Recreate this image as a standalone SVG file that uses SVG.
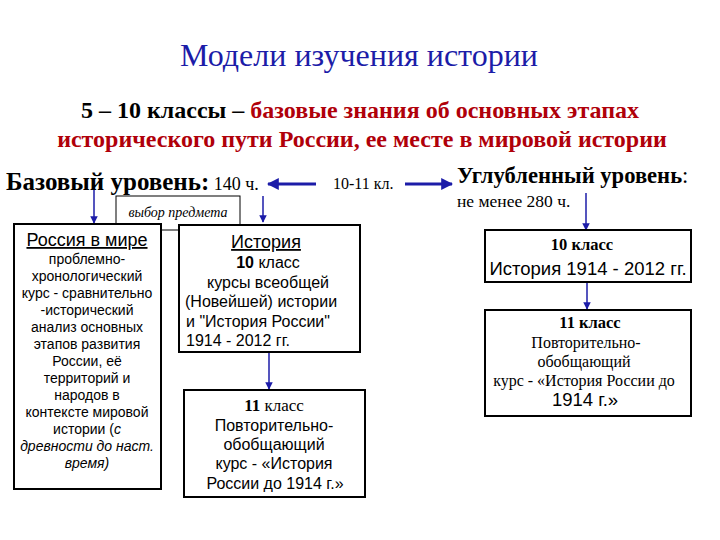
<svg xmlns="http://www.w3.org/2000/svg" width="720" height="540" viewBox="0 0 720 540">
<defs>
<marker id="ah" viewBox="0 0 10 10" refX="9" refY="5" markerWidth="4" markerHeight="4" orient="auto" markerUnits="strokeWidth"><path d="M0,0 L10,5 L0,10 z" fill="#1c1ca8"/></marker>
<marker id="ahs" viewBox="0 0 10 10" refX="9" refY="5" markerWidth="5" markerHeight="5" orient="auto" markerUnits="strokeWidth"><path d="M0,0 L10,5 L0,10 z" fill="#1c1ca8"/></marker>
</defs>
<style>
.serif{font-family:"Liberation Serif","Times New Roman",serif}
.sans{font-family:"Liberation Sans",Arial,sans-serif}
.box{fill:#fff;stroke:#000;stroke-width:2}
.big{stroke:#1c1ca8;stroke-width:3;fill:none}
.thin{stroke:#1c1ca8;stroke-width:1.5;fill:none}
.red{fill:#b0000a}
</style>
<rect width="720" height="540" fill="#fff"/>
<g id="title">
<text class="serif" x="359" y="66" font-size="32" fill="#1c1ca8" text-anchor="middle">Модели изучения истории</text>
</g>
<g id="subtitle" class="serif" font-weight="bold" font-size="24" text-anchor="middle">
<text x="360" y="118"><tspan fill="#000">5 – 10 классы – </tspan><tspan class="red">базовые знания об основных этапах</tspan></text>
<text x="362" y="147" class="red">исторического пути России, ее месте в мировой истории</text>
</g>
<g id="base-level">
<text class="serif" x="6" y="190" font-size="25"><tspan font-weight="bold">Базовый уровень:</tspan><tspan font-size="18"> 140 ч.</tspan></text>
</g>
<g id="grades">
<text class="serif" x="333" y="189" font-size="16">10-11 кл.</text>
</g>
<g id="deep-level">
<text class="serif" x="457" y="183" font-size="22.6"><tspan font-weight="bold">Углубленный уровень</tspan>:</text>
<text class="serif" x="457" y="207" font-size="17.5">не менее 280 ч.</text>
</g>
<g id="connectors">
<line class="big" x1="316" y1="184" x2="268" y2="184" marker-end="url(#ah)"/>
<line class="big" x1="405" y1="184" x2="452" y2="184" marker-end="url(#ah)"/>
<line class="thin" x1="94" y1="190" x2="94" y2="223" marker-end="url(#ahs)"/>
<line class="thin" x1="263" y1="196" x2="263" y2="222" marker-end="url(#ahs)"/>
<line class="thin" x1="586" y1="193" x2="586" y2="230" marker-end="url(#ahs)"/>
<line class="thin" x1="269" y1="353" x2="269" y2="389" marker-end="url(#ahs)"/>
<line class="thin" x1="587" y1="283" x2="587" y2="309" marker-end="url(#ahs)"/>
</g>
<g id="choice">
<rect x="116" y="196" width="124" height="34" fill="#fff" stroke="#000" stroke-width="1"/>
<text class="serif" x="178" y="217" font-size="14" font-style="italic" text-anchor="middle">выбор предмета</text>
</g>
<g id="russia-world" class="sans" text-anchor="middle">
<rect class="box" x="14" y="224" width="147" height="265"/>
<text x="87" y="246" font-size="18" text-decoration="underline">Россия в мире</text>
<g font-size="14">
<text x="87" y="264">проблемно-</text>
<text x="87" y="281">хронологический</text>
<text x="87" y="298">курс - сравнительно</text>
<text x="87" y="315">-исторический</text>
<text x="87" y="332">анализ основных</text>
<text x="87" y="349">этапов развития</text>
<text x="87" y="366">России, её</text>
<text x="87" y="383">территорий и</text>
<text x="87" y="400">народов в</text>
<text x="87" y="417">контексте мировой</text>
<text x="87" y="434">истории (<tspan font-style="italic">с</tspan></text>
<text x="87" y="451" font-style="italic">древности до наст.</text>
<text x="87" y="468" font-style="italic">время)</text>
</g>
</g>
<g id="history-10" class="sans" text-anchor="middle">
<rect class="box" x="179" y="225" width="181" height="127"/>
<text x="266" y="248" font-size="18" text-decoration="underline">История</text>
<g font-size="16">
<text x="268" y="268"><tspan font-weight="bold">10</tspan> класс</text>
<text x="268" y="288">курсы всеобщей</text>
<text x="185" y="307" text-anchor="start">(Новейшей) истории</text>
<text x="186" y="327" text-anchor="start">и "История России"</text>
<text x="186" y="346" text-anchor="start">1914 - 2012 гг.</text>
</g>
</g>
<g id="history-11" text-anchor="middle">
<rect class="box" x="184" y="390" width="181" height="107"/>
<text class="serif" x="274" y="411" font-size="17"><tspan font-weight="bold">11</tspan> класс</text>
<g class="sans" font-size="16">
<text x="274" y="431">Повторительно-</text>
<text x="274" y="450">обобщающий</text>
<text x="274" y="469">курс - «История</text>
<text x="275" y="489">России до 1914 г.»</text>
</g>
</g>
<g id="deep-10" text-anchor="middle">
<rect class="box" x="485" y="230" width="206" height="52"/>
<text class="serif" x="582" y="250" font-size="16.5" font-weight="bold">10 класс</text>
<text class="sans" x="588" y="275" font-size="18.5">История 1914 - 2012 гг.</text>
</g>
<g id="deep-11" text-anchor="middle">
<rect class="box" x="485" y="310" width="206" height="106"/>
<text class="serif" x="590" y="328" font-size="16.5" font-weight="bold">11 класс</text>
<g class="serif" font-size="16">
<text x="586" y="348">Повторительно-</text>
<text x="584" y="367">обобщающий</text>
<text x="584" y="386">курс - «История России до</text>
</g>
<text class="sans" x="585" y="406" font-size="18.5">1914 г.»</text>
</g>
</svg>
